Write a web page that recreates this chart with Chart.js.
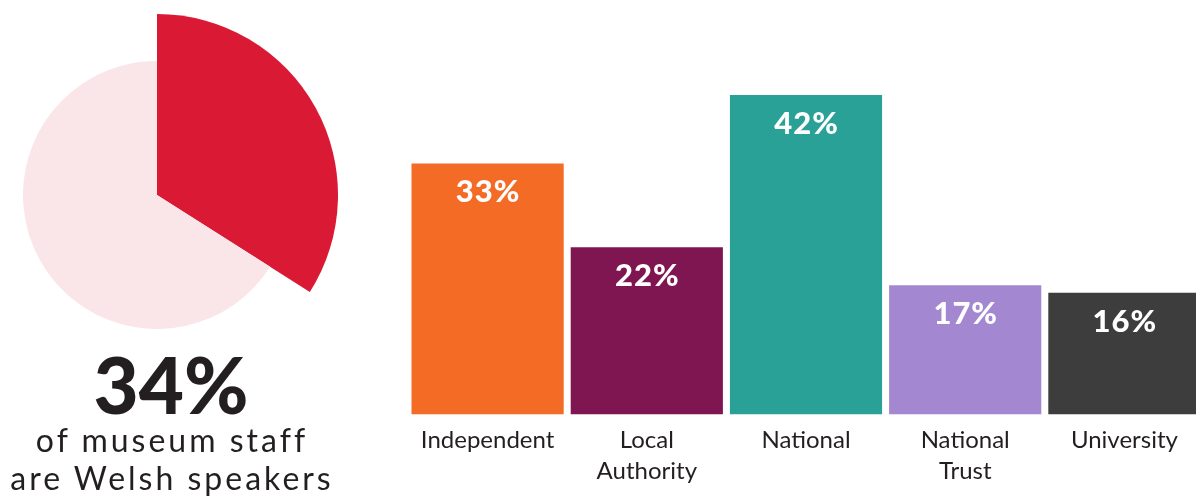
<!DOCTYPE html>
<html>
<head>
<meta charset="utf-8">
<script src="https://cdn.jsdelivr.net/npm/chart.js@4"></script>
<style>
  html, body { margin: 0; padding: 0; background: #fff; }
  body { width: 1196px; height: 502px; position: relative; overflow: hidden; font-family: Lato, sans-serif; color: #231f20; }
  #pieBox { position: absolute; left: -24px; top: 14px; width: 362px; height: 362px; }
  #barBox { position: absolute; left: 408px; top: 0; width: 796px; height: 502px; }
  #big { position: absolute; left: 0; top: 345px; width: 342px; text-align: center; font-size: 78px; line-height: 78px; font-weight: 900; }
  #sub { position: absolute; left: 1px; top: 421px; width: 342px; text-align: center; font-size: 32px; line-height: 38px; font-weight: 400; letter-spacing: 3px; }
</style>
</head>
<body>
<div id="pieBox"><canvas id="pie"></canvas></div>
<div id="big">34%</div>
<div id="sub">of museum staff<br>are Welsh speakers</div>
<div id="barBox"><canvas id="bars"></canvas></div>
<script>
// share of museum staff who speak Welsh
var welshShare = [34, 66];
var pieColors = ['#da1a35', '#fae6e9'];
var restRadius = 134 / 181; // the pale slice is drawn smaller than the red one

// by museum type
var categories = [['Independent'], ['Local', 'Authority'], ['National'], ['National', 'Trust'], ['University']];
var values = [33, 22, 42, 17, 16];
var barColors = ['#f36b25', '#7f1651', '#29a197', '#a387d0', '#3d3d3d'];

var shrinkRest = {
  id: 'shrinkRest',
  beforeDatasetsDraw: function(chart) {
    var arcs = chart.getDatasetMeta(0).data;
    arcs[1].outerRadius = arcs[0].outerRadius * restRadius;
  }
};

new Chart(document.getElementById('pie'), {
  type: 'pie',
  data: {
    labels: ['Welsh speakers', 'Others'],
    datasets: [{ data: welshShare, backgroundColor: pieColors, borderWidth: 0 }]
  },
  options: {
    responsive: true,
    maintainAspectRatio: false,
    animation: false,
    layout: { padding: 0 },
    plugins: { legend: { display: false }, tooltip: { enabled: false } }
  },
  plugins: [shrinkRest]
});

var valueLabels = {
  id: 'valueLabels',
  afterDatasetsDraw: function(chart) {
    var ctx = chart.ctx;
    var meta = chart.getDatasetMeta(0);
    ctx.save();
    ctx.fillStyle = '#fff';
    ctx.font = '900 31px Lato';
    ctx.letterSpacing = '1px';
    ctx.textAlign = 'center';
    ctx.textBaseline = 'middle';
    meta.data.forEach(function(bar, i) {
      ctx.fillText(values[i] + '%', bar.x + 0.5, bar.y + 29);
    });
    ctx.restore();
  }
};

new Chart(document.getElementById('bars'), {
  type: 'bar',
  data: {
    labels: categories,
    datasets: [{
      data: values,
      backgroundColor: barColors,
      borderWidth: 0,
      categoryPercentage: 1,
      barPercentage: 0.956
    }]
  },
  options: {
    responsive: true,
    maintainAspectRatio: false,
    animation: false,
    layout: { padding: { top: 34, bottom: 5, left: 0, right: 0 } },
    scales: {
      y: { display: false, min: 0, max: 50 },
      x: {
        grid: { display: false, drawTicks: false },
        border: { display: false },
        ticks: { color: '#231f20', padding: 10, font: { family: 'Lato', size: 24, weight: 400, lineHeight: 1.3 }, maxRotation: 0, autoSkip: false }
      }
    },
    plugins: { legend: { display: false }, tooltip: { enabled: false } }
  },
  plugins: [valueLabels]
});
</script>
</body>
</html>
